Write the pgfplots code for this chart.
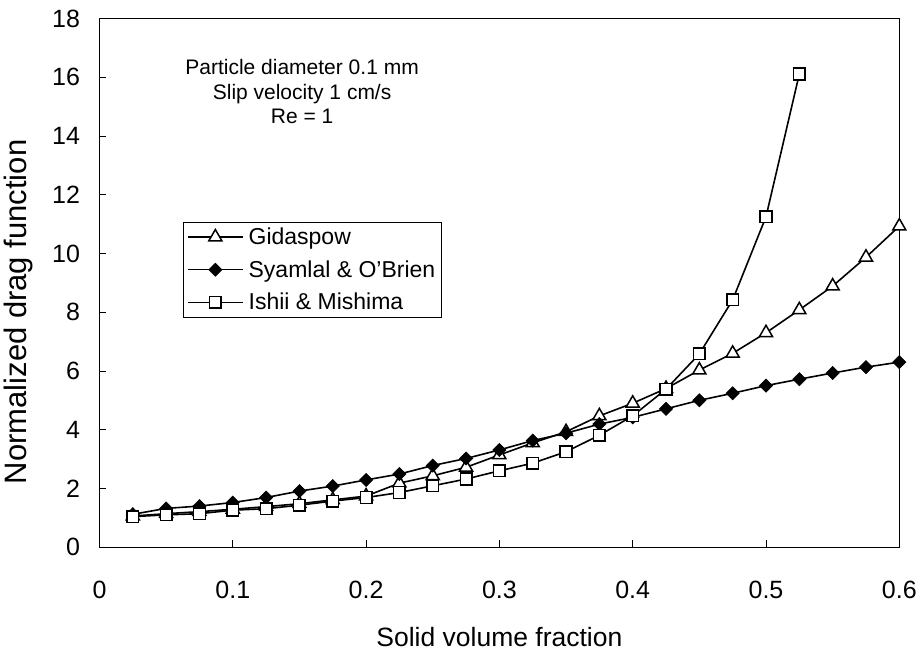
\documentclass[border=0pt]{standalone}
\usepackage{pgfplots}
\pgfplotsset{compat=1.18}
\usepackage{fontspec}
\setmainfont{Liberation Sans}
\begin{document}
\begin{tikzpicture}
\begin{axis}[
  scale only axis,
  width=800pt, height=528.8pt,
  xmin=0, xmax=0.6, ymin=0, ymax=18,
  xtick={0,0.1,0.2,0.3,0.4,0.5,0.6},
  ytick={0,2,4,6,8,10,12,14,16,18},
  xticklabels={0,0.1,0.2,0.3,0.4,0.5,0.6},
  tick pos=left,
  tick align=inside,
  major tick length=7pt,
  axis line style={line width=1pt},
  every tick/.style={line width=0.8pt, black},
  /pgf/number format/assume math mode=true,
  tick label style={font=\fontsize{25}{30}\selectfont},
  xticklabel style={yshift=-30pt},
  yticklabel style={xshift=-16pt},
  every axis x label/.style={at={(axis description cs:0.5,0)}, anchor=center, yshift=-89.4pt, font=\fontsize{26.5}{32}\selectfont},
  every axis y label/.style={at={(axis description cs:-0.1015,0.445)}, rotate=90, anchor=center, font=\fontsize{31}{36}\selectfont},
  xlabel={Solid volume fraction},
  ylabel={Normalized drag function},
  legend cell align=left,
  legend style={at={(axis description cs:0.104,0.615)}, anchor=north west,
    draw=black, line width=0.8pt, fill=white,
    font=\fontsize{23}{27}\selectfont,
    inner xsep=4pt, inner ysep=3.5pt, row sep=10.5pt, column sep=3pt},
  legend image code/.code={\draw[mark repeat=2,mark phase=2] plot coordinates {(0pt,0pt) (27.5pt,0pt) (55pt,0pt)};},
]
\addplot[black, line width=1.6pt, mark=triangle*, mark size=7.5pt, mark options={fill=white, line width=1.5pt}] coordinates {
(0.025,1.06) (0.05,1.14) (0.075,1.21) (0.1,1.29) (0.125,1.38) (0.15,1.48) (0.175,1.61) (0.2,1.74)
(0.225,2.18) (0.25,2.43) (0.275,2.72) (0.3,3.14) (0.325,3.55) (0.35,3.93) (0.375,4.47) (0.4,4.90)
(0.425,5.40) (0.45,6.03) (0.475,6.60) (0.5,7.30) (0.525,8.08) (0.55,8.89) (0.575,9.87) (0.6,10.93)
};
\addlegendentry{Gidaspow}
\addplot[black, line width=1.6pt, mark=square*, mark size=4.7pt, mark options={rotate=45, fill=black, line width=0.5pt}] coordinates {
(0.025,1.12) (0.05,1.32) (0.075,1.40) (0.1,1.52) (0.125,1.69) (0.15,1.91) (0.175,2.08) (0.2,2.29)
(0.225,2.49) (0.25,2.78) (0.275,3.02) (0.3,3.31) (0.325,3.63) (0.35,3.88) (0.375,4.19) (0.4,4.42)
(0.425,4.71) (0.45,5.00) (0.475,5.24) (0.5,5.50) (0.525,5.72) (0.55,5.93) (0.575,6.13) (0.6,6.30)
};
\addlegendentry{Syamlal \& O'Brien}
\addplot[black, line width=1.6pt, mark=square*, mark size=5.8pt, mark options={fill=white, line width=1.5pt}] coordinates {
(0.025,1.04) (0.05,1.10) (0.075,1.14) (0.1,1.26) (0.125,1.31) (0.15,1.43) (0.175,1.57) (0.2,1.69)
(0.225,1.86) (0.25,2.09) (0.275,2.32) (0.3,2.60) (0.325,2.86) (0.35,3.25) (0.375,3.81) (0.4,4.47)
(0.425,5.38) (0.45,6.58) (0.475,8.42) (0.5,11.25) (0.525,16.11)
};
\addlegendentry{Ishii \& Mishima}
\node[align=center, font=\fontsize{21}{24.5}\selectfont, anchor=center] at (axis cs:0.152,15.50)
  {Particle diameter 0.1 mm\\Slip velocity 1 cm/s\\Re = 1};
\end{axis}
\pgfresetboundingbox
\path (-99.5pt,-107.7pt) rectangle (824.7pt,547.3pt);
\end{tikzpicture}
\end{document}
